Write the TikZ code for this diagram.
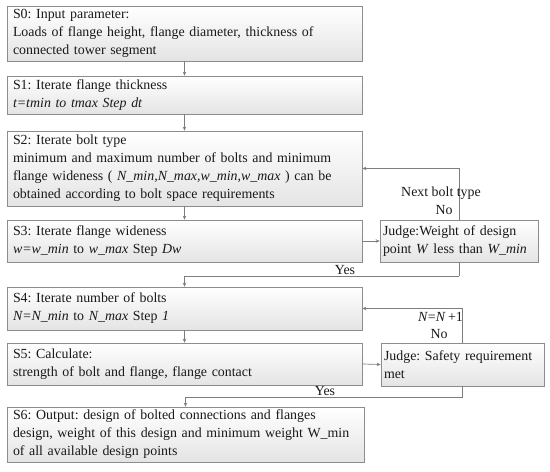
\documentclass[tikz,border=0pt]{standalone}
\usepackage{fontspec}
\setmainfont{Liberation Serif}
\frenchspacing
\usetikzlibrary{arrows.meta,shadows}
\definecolor{boxline}{RGB}{140,140,140}
\definecolor{conn}{RGB}{125,125,125}
\definecolor{txt}{RGB}{25,25,25}
\definecolor{boxbot}{RGB}{228,228,228}
\begin{document}
\begin{tikzpicture}[x=1pt,y=-1pt,
  every node/.style={font=\fontsize{13.9}{18}\selectfont, text=txt},
  stepbox/.style={draw=boxline, line width=0.7pt, top color=white, bottom color=boxbot,
    drop shadow={shadow xshift=1pt, shadow yshift=-1pt, opacity=0.25},
    inner xsep=6pt, inner ysep=0pt, align=left, anchor=center},
  judgebox/.style={stepbox, inner xsep=3pt},
  conline/.style={draw=conn, line width=0.7pt},
  arr/.style={conline, -{Stealth[length=4pt,width=3.5pt]}},
  lbl/.style={inner sep=0pt}
]
\useasboundingbox (0,0) rectangle (550,472);

\node[stepbox, minimum width=355, minimum height=55, text width=343] (s0) at (184.5,33.5)
 {S0: Input parameter:\\Loads of flange height, flange diameter, thickness of\\connected tower segment};
\node[stepbox, minimum width=355, minimum height=38, text width=343] (s1) at (184.5,95)
 {S1: Iterate flange thickness\\\textit{t=tmin to tmax Step dt}};
\node[stepbox, minimum width=355, minimum height=75, text width=343] (s2) at (184.5,168.5)
 {S2: Iterate bolt type\\minimum and maximum number of bolts and minimum\\flange wideness ( \textit{N\_min,N\_max,w\_min,w\_max} ) can be\\obtained according to bolt space requirements};
\node[stepbox, minimum width=355, minimum height=42, text width=343] (s3) at (184.5,241)
 {S3: Iterate flange wideness\\\textit{w=w\_min} to \textit{w\_max} Step \textit{Dw}};
\node[stepbox, minimum width=355, minimum height=43, text width=343] (s4) at (184.5,308.5)
 {S4: Iterate number of bolts\\\textit{N=N\_min} to \textit{N\_max} Step \textit{1}};
\node[stepbox, minimum width=355, minimum height=42, text width=343] (s5) at (184.5,364)
 {S5: Calculate:\\strength of bolt and flange, flange contact};
\node[stepbox, minimum width=357, minimum height=55, text width=345] (s6) at (185.5,434.5)
 {S6: Output: design of bolted connections and flanges\\design, weight of this design and minimum weight W\_min\\of all available design points};

\node[judgebox, minimum width=158, minimum height=42, text width=152] (j1) at (459,241)
 {Judge:Weight of design\\point \textit{W} less than \textit{W\_min}};
\node[judgebox, minimum width=163, minimum height=43, text width=157] (j2) at (462.5,364.5)
 {Judge: Safety requirement\\met};

\coordinate (y1) at (459,276);
\coordinate (y2) at (462.5,397);

\draw[arr] (s0.south) -- (s1.north);
\draw[arr] (s1.south) -- (s2.north);
\draw[arr] (s2.south) -- (s3.north);
\draw[arr] (s4.south) -- (s5.north);
\draw[arr] (s3.east) -- (j1.west);
\draw[arr] (s5.east) -- (j2.west);
\draw[arr] (j1.north) |- (s2.east);
\draw[arr] (j2.north) |- (s4.east);
\draw[conline] (j1.south) -- (y1);
\draw[arr] (y1) -| (s4.north);
\draw[conline] (j2.south) -- (y2);
\draw[arr] (y2) -| (s6.north);

\node[lbl] (nbt) at (441,193) {Next bolt type};
\node[lbl] (no1) at (444,210) {No};
\node[lbl, anchor=east] (nn) at (463,317) {\textit{N}=\textit{N}\,+1};
\node[lbl] (no2) at (439,334) {No};
\node[lbl] (yes1) at (345,270) {Yes};
\node[lbl] (yes2) at (325,391) {Yes};
\end{tikzpicture}
\end{document}
